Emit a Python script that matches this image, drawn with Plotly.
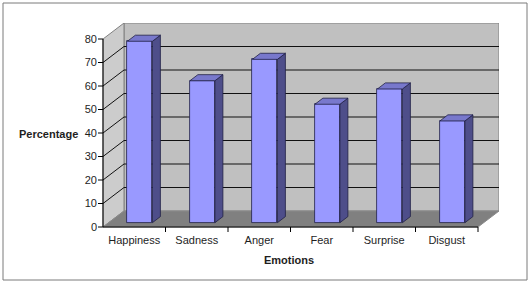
import plotly.graph_objects as go

categories = ["Happiness", "Sadness", "Anger", "Fear", "Surprise", "Disgust"]
values = [77.2, 60.4, 69.5, 50.4, 56.9, 43.3]
y_ticks = [0, 10, 20, 30, 40, 50, 60, 70, 80]
y_ticktext = [str(v) for v in y_ticks]

W, H = 532, 282
ML, MR, MT, MB = 98, 33, 23, 50
PW, PH = W - ML - MR, H - MT - MB
n = len(categories)
YMAX = y_ticks[-1]
PX_PER_X = 62.5       # px per category
PX_PER_Y = 2.35       # px per value unit
DX = 21 / PX_PER_X    # depth offset (x units)
DY = 16 / PX_PER_Y    # depth offset (y units)
TX = 5 / PX_PER_X     # tick length in x units
TY = 5 / PX_PER_Y     # tick length in y units
X0, X1 = -0.5, n - 0.5
BAR_W = 0.4
F1, F2 = 0.27, 0.65   # bar front / back depth fractions

FONT = "Liberation Sans, Arial, sans-serif"
TXT = "#1e1e1e"

fig = go.Figure()


def path_of(xs, ys):
    return "M" + " L".join(f"{a},{b}" for a, b in zip(xs, ys)) + " Z"


def bg_poly(xs, ys, fill, line_color, lw=1.0):
    fig.add_shape(type="path", xref="x", yref="y", path=path_of(xs, ys),
                  fillcolor=fill, line=dict(color=line_color, width=lw), layer="below")


def bg_line(p, q, color, lw=1.0):
    fig.add_shape(type="line", xref="x", yref="y", x0=p[0], y0=p[1], x1=q[0], y1=q[1],
                  line=dict(color=color, width=lw), layer="below")


def poly(xs, ys, fill, line_color, lw=1.0):
    fig.add_trace(go.Scatter(
        x=list(xs) + [xs[0]], y=list(ys) + [ys[0]], fill="toself",
        fillcolor=fill, mode="lines", line=dict(color=line_color, width=lw),
        hoverinfo="skip", showlegend=False))


def lines(segs, color, lw=1.0):
    xs, ys = [], []
    for (a, b), (c, d) in segs:
        xs += [a, c, None]
        ys += [b, d, None]
    fig.add_trace(go.Scatter(x=xs, y=ys, mode="lines",
                             line=dict(color=color, width=lw),
                             hoverinfo="skip", showlegend=False))


# back wall
bg_poly([X0 + DX, X1 + DX, X1 + DX, X0 + DX], [DY, DY, YMAX + DY, YMAX + DY],
        "#c0c0c0", "#808080")
# left wall
bg_poly([X0, X0 + DX, X0 + DX, X0], [0, DY, YMAX + DY, YMAX], "#cccccc", "#808080")
# floor
bg_poly([X0, X1, X1 + DX, X0 + DX], [0, 0, DY, DY], "#808080", "#8a8a8a")

# gridlines
for v in y_ticks[1:-1]:
    bg_line((X0 + DX, v + DY), (X1 + DX, v + DY), "#111111")
    bg_line((X0, v), (X0 + DX, v + DY), "#111111")

# bars: front faces
ox1, oy1 = F1 * DX, F1 * DY
ddx, ddy = (F2 - F1) * DX, (F2 - F1) * DY
fig.add_trace(go.Bar(
    x=[i + ox1 for i in range(n)], y=values, base=oy1, width=BAR_W,
    marker=dict(color="#9999ff", line=dict(color="#202045", width=0.8)),
    hoverinfo="skip", showlegend=False))

# bars: side and top faces
for i, v in enumerate(values):
    xl = i - BAR_W / 2 + ox1
    xr = i + BAR_W / 2 + ox1
    poly([xr, xr + ddx, xr + ddx, xr], [oy1, oy1 + ddy, v + oy1 + ddy, v + oy1],
         "#4e4e8a", "#202045", 0.8)
    poly([xl, xr, xr + ddx, xl + ddx], [v + oy1, v + oy1, v + oy1 + ddy, v + oy1 + ddy],
         "#7878cc", "#202045", 0.8)

# front axis lines
lines([((X0, YMAX), (X0, 0)), ((X0, 0), (X1, 0))], "#000000", 1)
# ticks
tick_segs = [((X0 - TX, v), (X0, v)) for v in y_ticks]
tick_segs += [((i + 0.5, 0), (i + 0.5, -TY)) for i in range(n)]
lines(tick_segs, "#000000", 1)

fig.update_layout(
    width=W, height=H, margin=dict(l=ML, r=MR, t=MT, b=MB),
    paper_bgcolor="white", plot_bgcolor="white",
    font=dict(family=FONT, size=11, color=TXT),
    bargap=0,
    xaxis=dict(range=[X0 - TX, X1 + DX], showgrid=False, zeroline=False,
               showline=False, tickvals=list(range(n)), ticktext=categories,
               ticks="", tickfont=dict(size=11, color=TXT), fixedrange=True),
    yaxis=dict(range=[-TY, YMAX + DY], showgrid=False, zeroline=False,
               showline=False, tickvals=y_ticks, ticktext=y_ticktext,
               ticks="", tickfont=dict(size=11, color=TXT), fixedrange=True),
)


def px2paper(px, py):
    return (px - ML) / PW, (H - MB - py) / PH


bx0, by0 = px2paper(3, 280)
bx1, by1 = px2paper(527, 3)
fig.add_shape(type="rect", xref="paper", yref="paper", x0=bx0, y0=by0, x1=bx1, y1=by1,
              line=dict(color="#7a7a7a", width=1), fillcolor="rgba(0,0,0,0)", layer="below")

ax, ay = px2paper(48, 134)
fig.add_annotation(xref="paper", yref="paper", x=ax, y=ay, text="<b>Percentage</b>",
                   showarrow=False, xanchor="center", yanchor="middle",
                   font=dict(size=11, color=TXT, family=FONT))
ex, ey = px2paper(289, 260)
fig.add_annotation(xref="paper", yref="paper", x=ex, y=ey, text="<b>Emotions</b>",
                   showarrow=False, xanchor="center", yanchor="middle",
                   font=dict(size=11, color=TXT, family=FONT))

fig.write_html("out.html")
